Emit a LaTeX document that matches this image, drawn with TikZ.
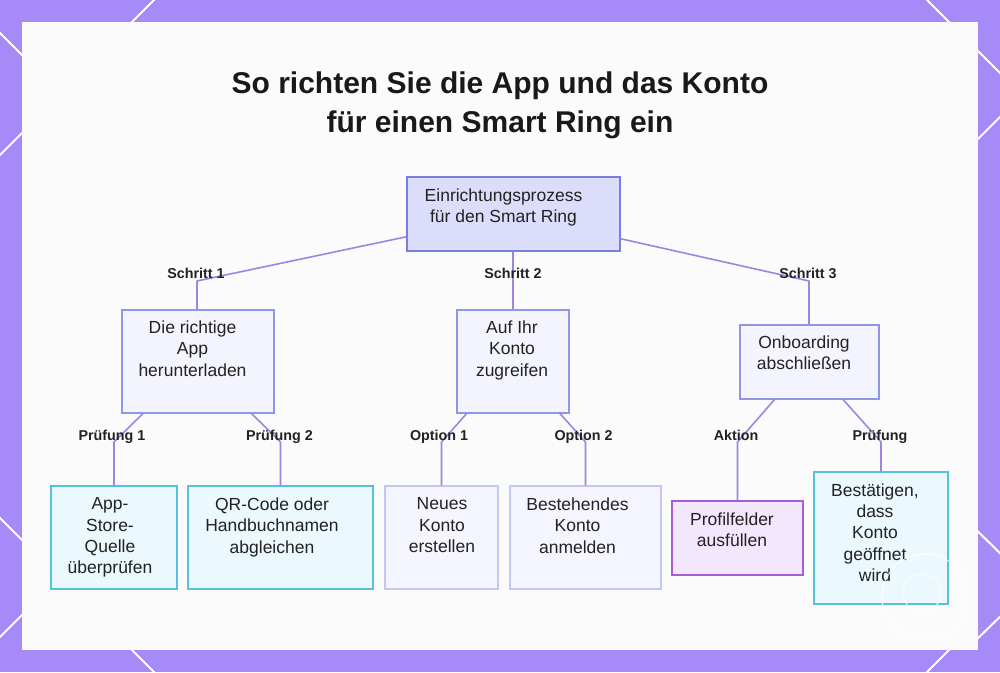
\documentclass[tikz,border=0pt]{standalone}
\usepackage{fontspec}
\setmainfont{Liberation Sans}
\usetikzlibrary{calc}
\definecolor{bgpurple}{HTML}{A68AF8}
\definecolor{panel}{HTML}{FBFBFB}
\definecolor{edgec}{HTML}{A084E4}
\definecolor{txt}{HTML}{222222}
\definecolor{rootfill}{HTML}{DCDDFB}
\definecolor{rootdraw}{HTML}{7A7EE3}
\definecolor{midfill}{HTML}{F3F4FE}
\definecolor{middraw}{HTML}{8F95EA}
\definecolor{cyanfill}{HTML}{EBF8FE}
\definecolor{cyandraw}{HTML}{55C1DE}
\definecolor{palefill}{HTML}{F4F5FE}
\definecolor{paledraw}{HTML}{C3C7F3}
\definecolor{violfill}{HTML}{F3E7FD}
\definecolor{violdraw}{HTML}{A45ED9}
\tikzset{
  boxbase/.style={rectangle, inner sep=0pt, line width=1.3pt},
  rootbox/.style={boxbase, fill=rootfill, draw=rootdraw},
  midbox/.style={boxbase, fill=midfill, draw=middraw},
  cyanbox/.style={boxbase, fill=cyanfill, draw=cyandraw},
  palebox/.style={boxbase, fill=palefill, draw=paledraw},
  violbox/.style={boxbase, fill=violfill, draw=violdraw},
  bodytext/.style={anchor=north, inner sep=0pt, align=center, text=txt, font=\fontsize{17.5}{21.4}\selectfont},
  edgelabel/.style={anchor=base, inner sep=0pt, text=txt, font=\fontsize{14.3}{16}\selectfont\bfseries},
  titletext/.style={anchor=base, inner sep=0pt, text=black!90, font=\fontsize{30}{36}\selectfont\bfseries},
  conn/.style={draw=edgec, line width=1.6pt, line join=round},
  deco/.style={draw=white, line width=2pt},
}
\begin{document}
\begin{tikzpicture}[x=1pt, y=-1pt]
\useasboundingbox (0,0) rectangle (1000,672);
% background
\fill[bgpurple] (0,0) rectangle (1000,672);
\draw[deco] (-10,23) -- (60,93);
\draw[deco] (164,-10) -- (100,54);
\draw[deco] (-10,165) -- (60,95);
\draw[deco] (-10,508) -- (60,578);
\draw[deco] (-10,647) -- (60,577);
\draw[deco] (100,618) -- (164,682);
\draw[deco] (917,-10) -- (1010,83);
\draw[deco] (1010,107) -- (950,167);
\draw[deco] (950,504) -- (1010,563);
\draw[deco] (1010,607) -- (972,644);
\draw[deco] (917,682) -- (965,634);
\fill[panel] (22,22) rectangle (978,650);

% title
\node[titletext] (t1) at (500,93) {So richten Sie die App und das Konto};
\node[titletext] (t2) at (500,132) {für einen Smart Ring ein};

% boxes
\node[rootbox, minimum width=213pt, minimum height=74pt] (root) at (513.5,214) {};
\node[midbox, minimum width=152pt, minimum height=103pt] (A) at (198,361.5) {};
\node[midbox, minimum width=112pt, minimum height=103pt] (B) at (513,361.5) {};
\node[midbox, minimum width=139pt, minimum height=74pt] (C) at (809.5,362) {};
\node[cyanbox, minimum width=126pt, minimum height=103pt] (L1) at (114,537.5) {};
\node[cyanbox, minimum width=185pt, minimum height=103pt] (L2) at (280.5,537.5) {};
\node[palebox, minimum width=113pt, minimum height=103pt] (L3) at (441.5,537.5) {};
\node[palebox, minimum width=151pt, minimum height=103pt] (L4) at (585.5,537.5) {};
\node[violbox, minimum width=131pt, minimum height=74pt] (L5) at (737.5,538) {};
\node[cyanbox, minimum width=134pt, minimum height=132pt] (L6) at (881,538) {};

% box texts
\node[bodytext] (rootT) at (503.5,188.5) {Einrichtungsprozess\\für den Smart Ring};
\node[bodytext] (AT) at (192.5,320.5) {Die richtige\\App\\herunterladen};
\node[bodytext] (BT) at (512,320.5) {Auf Ihr\\Konto\\zugreifen};
\node[bodytext] (CT) at (804,335.5) {Onboarding\\abschließen};
\node[bodytext] (L1T) at (110,497.5) {App-\\Store-\\Quelle\\überprüfen};
\node[bodytext] (L2T) at (272,497.5) {QR-Code oder\\Handbuchnamen\\abgleichen};
\node[bodytext] (L3T) at (442,497.5) {Neues\\Konto\\erstellen};
\node[bodytext] (L4T) at (577.5,497.5) {Bestehendes\\Konto\\anmelden};
\node[bodytext] (L5T) at (732,512.5) {Profilfelder\\ausfüllen};
\node[bodytext] (L6T) at (875,483.2) {Bestätigen,\\dass\\Konto\\geöffnet\\wird};

% level coordinates
\coordinate (lvlB) at (0,442);
\coordinate (kA) at (197,281);
\coordinate (kC) at (809,281);

% connectors
\draw[conn] (root.192.2) -- (kA) -- (kA |- A.north);
\draw[conn] (B.north |- root.south) -- (B.north);
\draw[conn] (root.347.3) -- (kC) -- (kC |- C.north);
\draw[conn] ($(A.south west)!0.14!(A.south east)$) -- (L1.north |- lvlB) -- (L1.north);
\draw[conn] ($(A.south west)!0.85!(A.south east)$) -- (L2.north |- lvlB) -- (L2.north);
\draw[conn] ($(B.south west)!0.09!(B.south east)$) -- (L3.north |- lvlB) -- (L3.north);
\draw[conn] ($(B.south west)!0.915!(B.south east)$) -- (L4.north |- lvlB) -- (L4.north);
\draw[conn] ($(C.south west)!0.25!(C.south east)$) -- (L5.north |- lvlB) -- (L5.north);
\draw[conn] ($(C.south west)!0.74!(C.south east)$) -- (L6.north |- lvlB) -- (L6.north);

% edge labels
\node[edgelabel] (s1) at (196,278) {Schritt 1};
\node[edgelabel] (s2) at (513,278) {Schritt 2};
\node[edgelabel] (s3) at (808,278) {Schritt 3};
\node[edgelabel] (p1) at (112,440) {Prüfung 1};
\node[edgelabel] (p2) at (279.5,440) {Prüfung 2};
\node[edgelabel] (o1) at (439,440) {Option 1};
\node[edgelabel] (o2) at (583.5,440) {Option 2};
\node[edgelabel] (ak) at (736,440) {Aktion};
\node[edgelabel] (pr) at (880,440) {Prüfung};

% faint watermark circles
\draw[white, line width=1pt, opacity=0.85] (925,597) circle (43pt);
\draw[white, line width=1pt, opacity=0.85] (922,593) circle (19pt);
\end{tikzpicture}
\end{document}
